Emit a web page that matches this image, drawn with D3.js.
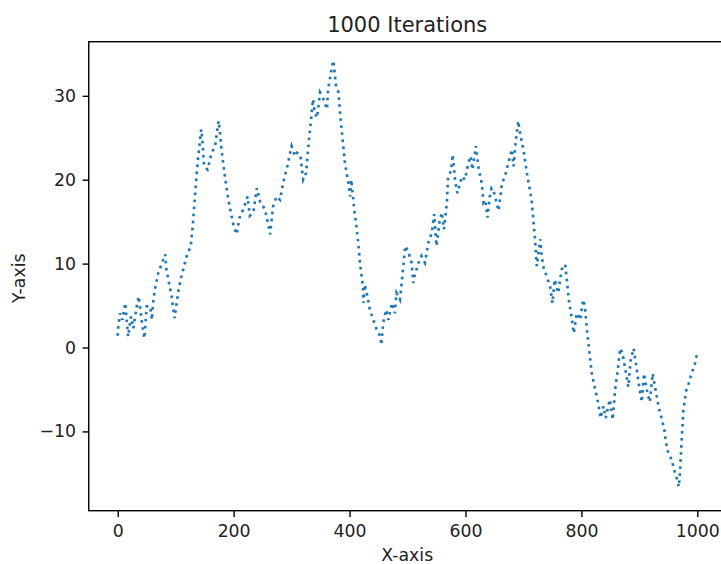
<!DOCTYPE html>
<meta charset="utf-8">
<style>
    html,
    body {
        margin: 0;
        padding: 0;
        background: #fff;
    }

    svg {
        display: block;
        font-family: "DejaVu Sans", sans-serif;
    }
</style>

<body>
    <svg width="721" height="564"></svg>
    <script src="https://d3js.org/d3.v7.min.js"></script>
    <script>
        // iteration number and walk value
        const iters = [0, 1, 4, 8, 13, 16, 18, 23, 27, 30, 36, 40, 42, 46, 50, 56, 59, 61, 64, 70,
            82, 84, 93, 98, 105, 110, 119, 126, 129, 135, 139, 144, 146, 149, 155, 162, 168, 174, 176, 179,
            185, 190, 194, 200, 205, 211, 217, 224, 228, 234, 240, 246, 254, 259, 263, 268, 274, 280, 286, 292,
            300, 306, 309, 315, 320, 325, 329, 333, 337, 340, 344, 349, 355, 361, 363, 369, 372, 377, 381, 384,
            388, 392, 398, 401, 403, 408, 411, 415, 418, 423, 424, 426, 431, 435, 441, 447, 453, 455, 458, 463,
            467, 473, 478, 481, 487, 490, 496, 501, 507, 510, 512, 519, 524, 530, 536, 542, 546, 550, 555, 559,
            563, 568, 570, 575, 578, 582, 586, 594, 599, 605, 609, 612, 618, 622, 628, 631, 634, 638, 642, 645,
            648, 651, 657, 663, 668, 674, 680, 683, 687, 691, 695, 700, 706, 710, 714, 717, 720, 723, 729, 731,
            734, 740, 746, 750, 754, 760, 766, 772, 776, 779, 783, 787, 792, 798, 803, 806, 809, 814, 818, 824,
            829, 833, 838, 842, 849, 854, 858, 862, 867, 871, 875, 881, 885, 890, 894, 898, 904, 908, 913, 918,
            923, 927, 933, 939, 943, 946, 950, 956, 960, 964, 968, 970, 973, 976, 981, 985, 990, 996, 999];
        const walk = [1.4, 2.5, 4.1, 3.3, 5.3, 2.9, 1.3, 3.7, 2.3, 3.7, 6.1, 4.1, 2.9, 1.1, 4.9, 4.9, 3.3, 5.3, 6.9, 8.9,
            11.1, 9.3, 6.1, 3.5, 6.9, 8.5, 10.9, 12.1, 14.1, 19.6, 22.8, 26.0, 24.8, 21.6, 21.2, 23.2, 24.0, 27.0, 26.0, 23.6,
            20.4, 18.0, 16.5, 14.5, 13.5, 15.7, 16.5, 18.0, 15.7, 16.1, 19.0, 17.3, 16.5, 14.9, 13.5, 16.8, 18.0, 17.6, 19.8, 21.4,
            24.0, 22.8, 23.2, 23.0, 20.0, 20.8, 24.0, 26.8, 29.6, 28.0, 27.4, 30.4, 29.6, 28.4, 30.8, 33.2, 34.2, 31.0, 30.4, 27.6,
            24.8, 22.0, 19.6, 18.0, 20.0, 16.5, 14.9, 12.5, 10.1, 7.3, 5.3, 7.5, 6.1, 4.5, 3.3, 2.1, 1.3, 0.3, 2.9, 4.5,
            3.3, 5.3, 4.1, 6.5, 5.7, 7.7, 12.1, 11.5, 10.1, 7.7, 8.5, 10.1, 10.9, 10.1, 12.5, 13.7, 15.9, 12.1, 14.9, 16.1,
            14.1, 17.3, 20.4, 21.0, 23.0, 20.0, 18.4, 20.4, 20.0, 22.0, 22.8, 21.2, 24.0, 21.6, 19.6, 17.3, 17.6, 15.5, 18.0, 19.0,
            18.8, 18.0, 16.3, 19.6, 20.4, 22.0, 23.6, 21.6, 24.8, 27.0, 25.2, 23.6, 20.8, 19.2, 17.6, 15.3, 12.9, 9.7, 12.9, 11.3,
            9.7, 8.5, 7.3, 5.3, 8.1, 6.5, 9.3, 9.9, 7.3, 5.3, 3.7, 1.7, 4.1, 3.3, 5.7, 5.0, 2.5, -0.7, -3.1, -5.1,
            -6.6, -8.4, -7.0, -8.4, -6.2, -8.6, -5.1, -3.1, -0.1, -0.7, -2.3, -4.7, -1.5, -0.1, -1.9, -3.9, -6.5, -3.1, -5.1, -6.5,
            -3.1, -4.7, -7.0, -8.6, -9.8, -11.4, -12.6, -13.4, -14.6, -15.4, -16.6, -15.0, -11.0, -7.4, -5.1, -4.3, -3.1, -1.9, -0.9];
        const xTicks = [0, 200, 400, 600, 800, 1000];
        const yTicks = [-10, 0, 10, 20, 30];

        const svg = d3.select('svg');
        // axes box (right edge runs past the picture, as in the reference)
        const box = { left: 88.75, right: 725.7, top: 41.7, bottom: 510.7 };
        const tick = 6.2;

        const x = d3.scaleLinear().domain([-49.95, 1048.95]).range([box.left, box.right]);
        const y = d3.scaleLinear().domain([-19.45, 36.45]).range([box.bottom, box.top]);

        const points = iters.map((it, i) => [it, walk[i]]);

        const line = d3.line()
            .x(d => x(d[0]))
            .y(d => y(d[1]));

        svg.append('path')
            .datum(points)
            .attr('d', line)
            .attr('fill', 'none')
            .attr('stroke', '#1f77b4')
            .attr('stroke-width', 2.65)
            .attr('stroke-dasharray', '2.65 4.4');

        const xAxis = svg.append('g')
            .attr('transform', `translate(0,${box.bottom})`)
            .call(d3.axisBottom(x).tickValues(xTicks).tickFormat(d3.format('d'))
                .tickSize(tick).tickPadding(7.5));
        const yAxis = svg.append('g')
            .attr('transform', `translate(${box.left},0)`)
            .call(d3.axisLeft(y).tickValues(yTicks).tickFormat(d3.format('d'))
                .tickSize(tick).tickPadding(6.5));

        [xAxis, yAxis].forEach(g => {
            g.select('.domain').remove();
            g.selectAll('line').attr('stroke', '#000').attr('stroke-width', 1.4);
            g.selectAll('text')
                .attr('fill', '#222')
                .style('font-family', '"DejaVu Sans", sans-serif')
                .style('font-size', '17.3px');
        });

        svg.append('rect')
            .attr('x', box.left)
            .attr('y', box.top)
            .attr('width', box.right - box.left)
            .attr('height', box.bottom - box.top)
            .attr('fill', 'none')
            .attr('stroke', '#000')
            .attr('stroke-width', 1.4);

        const midX = (box.left + box.right) / 2;

        svg.append('text')
            .attr('x', midX)
            .attr('y', 32)
            .attr('text-anchor', 'middle')
            .attr('fill', '#222')
            .style('font-size', '21px')
            .text('1000 Iterations');

        svg.append('text')
            .attr('x', midX)
            .attr('y', 561)
            .attr('text-anchor', 'middle')
            .attr('fill', '#222')
            .style('font-size', '17.3px')
            .text('X-axis');

        svg.append('text')
            .attr('transform', `translate(25,${(box.top + box.bottom) / 2 + 2}) rotate(-90)`)
            .attr('text-anchor', 'middle')
            .attr('fill', '#222')
            .style('font-size', '17.3px')
            .text('Y-axis');
    </script>
</body>

</html>
